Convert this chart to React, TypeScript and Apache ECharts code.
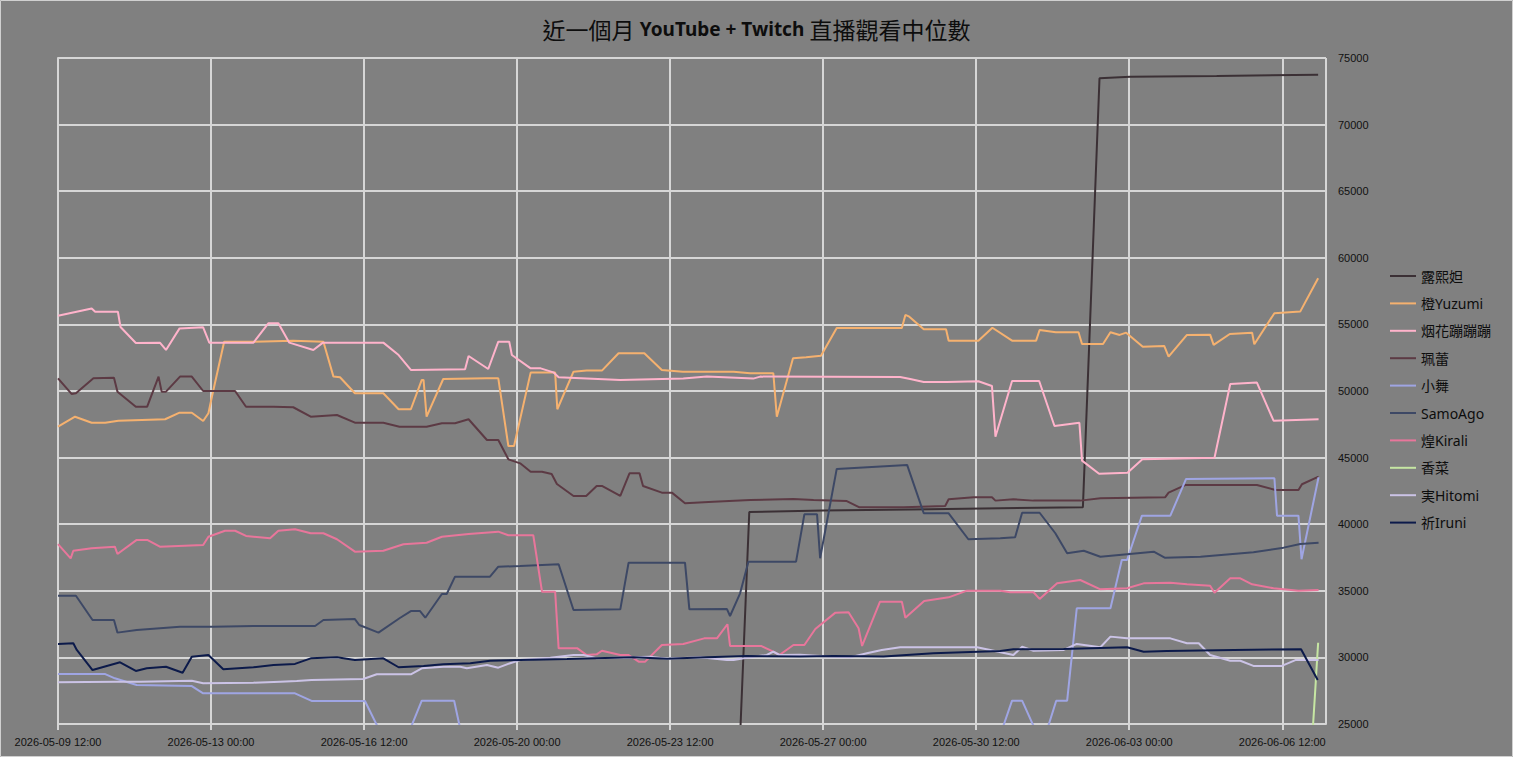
import React, { useEffect, useRef } from "react";
import * as echarts from "echarts";

// x values are days since 2026-05-09 12:00
const START_UTC = Date.UTC(2026, 4, 9, 12, 0);
const X_MAX_DAYS = 29;
const X_TICK_STEP_DAYS = 3.5;
const Y_MIN = 25000;
const Y_MAX = 75000;
const Y_STEP = 5000;

const TITLE_PARTS = ["近一個月 ", "YouTube + Twitch", " 直播觀看中位數"];

const SERIES_NAMES = [
  "露熙妲",
  "橙Yuzumi",
  "烟花蹦蹦蹦",
  "珮蕾",
  "小舞",
  "SamoAgo",
  "煌Kirali",
  "香菜",
  "実Hitomi",
  "祈Iruni",
];

const SERIES_COLORS = [
  "#3b3035",
  "#f5b16f",
  "#ffb3cb",
  "#5c3a44",
  "#9fa5e3",
  "#3d4865",
  "#e8769b",
  "#c6e6a3",
  "#cbc3e6",
  "#0c1a4a",
];

const luxida: [number, number][] = [
  [15.3, 0], [15.81, 40920], [17.5, 41020], [19.5, 41100], [21.55, 41200],
  [23.44, 41270], [23.82, 73480], [24.52, 73600], [26.5, 73650], [28.82, 73750],
];

const yuzumi: [number, number][] = [
  [0, 47320], [0.39, 48070], [0.77, 47620], [1.08, 47620], [1.38, 47770],
  [2.45, 47880], [2.78, 48370], [3.06, 48370], [3.32, 47750], [3.44, 48330],
  [3.52, 49570], [3.8, 53700], [4.47, 53700], [5.38, 53780], [6.07, 53700],
  [6.3, 51080], [6.45, 51030], [6.79, 49830], [7.44, 49830], [7.79, 48630],
  [8.07, 48630], [8.32, 50830], [8.36, 50830], [8.43, 48070], [8.81, 50900],
  [9.81, 50950], [10.07, 50950], [10.3, 45870], [10.43, 45870], [10.81, 51380],
  [11.37, 51380], [11.42, 48630], [11.79, 51450], [12.09, 51530], [12.44, 51530],
  [12.82, 52830], [13.41, 52830], [13.81, 51580], [14.29, 51450], [15.45, 51450],
  [15.83, 51330], [16.36, 51330], [16.44, 48070], [16.81, 52460], [17.11, 52530],
  [17.45, 52650], [17.81, 54730], [19.3, 54730], [19.38, 55710], [19.47, 55580],
  [19.8, 54630], [20.31, 54630], [20.37, 53780], [21.05, 53780], [21.37, 54750],
  [21.82, 53780], [22.37, 53780], [22.45, 54580], [22.82, 54410], [23.34, 54410],
  [23.42, 53530], [23.9, 53530], [24.07, 54410], [24.28, 54210], [24.43, 54380],
  [24.81, 53330], [25.3, 53380], [25.4, 52580], [25.82, 54210], [26.35, 54230],
  [26.43, 53460], [26.8, 54280], [27.31, 54380], [27.36, 53510], [27.82, 55840],
  [28.41, 55960], [28.82, 58460],
];

const yanhua: [number, number][] = [
  [0, 55650], [0.77, 56200], [0.85, 55950], [1.37, 55950], [1.43, 54800],
  [1.78, 53600], [2.33, 53630], [2.47, 53080], [2.78, 54700], [3.32, 54780],
  [3.46, 53630], [4.47, 53630], [4.81, 55080], [5.04, 55080], [5.29, 53630],
  [5.84, 53080], [6.06, 53630], [7.44, 53630], [7.79, 52700], [8.07, 51580],
  [9.31, 51630], [9.39, 52630], [9.84, 51650], [10.07, 53700], [10.32, 53700],
  [10.38, 52700], [10.81, 51700], [11.04, 51700], [11.33, 51400], [11.45, 51030],
  [12.86, 50830], [14.3, 50930], [14.84, 51080], [15.9, 50930], [16.06, 51080],
  [19.26, 51050], [19.49, 50900], [19.8, 50680], [20.33, 50680], [21.05, 50730],
  [21.36, 50380], [21.44, 46570], [21.82, 50750], [22.44, 50750], [22.79, 47370],
  [23.36, 47620], [23.42, 44770], [23.81, 43790], [24.46, 43870], [24.8, 44870],
  [26.45, 44990], [26.81, 50530], [27.42, 50630], [27.8, 47770], [28.83, 47880],
];

const peilei: [number, number][] = [
  [0, 50950], [0.31, 49780], [0.41, 49830], [0.81, 50950], [1.28, 51000],
  [1.36, 49950], [1.78, 48820], [2.04, 48820], [2.3, 51080], [2.37, 49950],
  [2.47, 49950], [2.79, 51080], [3.06, 51080], [3.32, 50000], [4.05, 50000],
  [4.3, 48820], [4.93, 48820], [5.38, 48780], [5.78, 48070], [6.38, 48200],
  [6.79, 47620], [7.44, 47620], [7.81, 47320], [8.43, 47320], [8.78, 47580],
  [9.08, 47580], [9.39, 47880], [9.81, 46320], [10.07, 46320], [10.3, 44870],
  [10.57, 44570], [10.81, 43940], [11.07, 43940], [11.29, 43770], [11.41, 43020],
  [11.79, 42120], [12.08, 42120], [12.32, 42870], [12.44, 42870], [12.86, 42120],
  [13.07, 43820], [13.3, 43820], [13.38, 42870], [13.81, 42370], [14.04, 42370],
  [14.34, 41570], [14.99, 41690], [15.83, 41820], [16.82, 41890], [17.28, 41820],
  [18.04, 41740], [18.33, 41270], [19.34, 41270], [20.29, 41370], [20.37, 41870],
  [20.94, 42020], [21.36, 42020], [21.44, 41770], [21.85, 41870], [22.31, 41770],
  [23.38, 41770], [23.84, 41950], [25.32, 42020], [25.4, 42370], [25.78, 42940],
  [27.42, 42940], [27.84, 42570], [28.37, 42570], [28.45, 43000], [28.83, 43570],
];

const xiaowu: [number, number][] = [
  [0, 28750], [1.08, 28750], [1.3, 28430], [1.8, 27930], [3.06, 27850],
  [3.32, 27300], [5.42, 27300], [5.8, 26730], [7.02, 26730], [7.73, 22000],
  [8.32, 26750], [9.06, 26750], [10.82, 0], [19.01, 0], [21.82, 26750],
  [22.05, 26750], [22.51, 23400], [22.83, 26750], [23.08, 26750], [23.3, 33690],
  [24.07, 33690], [24.33, 37310], [24.45, 37310], [24.79, 40640], [25.44, 40640],
  [25.8, 43400], [27.82, 43450], [27.88, 40640], [28.37, 40640], [28.44, 37370],
  [28.83, 43520],
];

const samoago: [number, number][] = [
  [0, 34630], [0.41, 34630], [0.79, 32810], [1.28, 32810], [1.36, 31860],
  [1.8, 32060], [2.79, 32310], [3.55, 32310], [4.47, 32360], [5.88, 32360],
  [6.07, 32810], [6.79, 32880], [6.89, 32430], [7.33, 31860], [7.81, 32940],
  [8.07, 33480], [8.28, 33480], [8.4, 32980], [8.78, 34760], [8.89, 34760],
  [9.08, 36060], [9.88, 36060], [10.07, 36810], [10.57, 36860], [11.45, 36990],
  [11.79, 33560], [12.86, 33610], [13.05, 37110], [14.34, 37110], [14.44, 33610],
  [15.3, 33630], [15.37, 33110], [15.6, 34810], [15.79, 37190], [16.88, 37190],
  [17.07, 40740], [17.36, 40740], [17.43, 37440], [17.81, 44150], [19.42, 44450],
  [19.8, 40820], [20.37, 40820], [20.82, 38870], [21.55, 38940], [21.89, 39020],
  [22.05, 40860], [22.45, 40860], [22.81, 39320], [23.08, 37820], [23.46, 38010],
  [23.84, 37560], [25.06, 37940], [25.31, 37490], [26.13, 37560], [27.34, 37890],
  [28.03, 38240], [28.41, 38510], [28.83, 38610],
];

const kirali: [number, number][] = [
  [0, 38510], [0.29, 37440], [0.35, 38010], [0.77, 38190], [1.3, 38310],
  [1.36, 37760], [1.8, 38820], [2.04, 38820], [2.33, 38310], [3.32, 38440],
  [3.44, 39060], [3.82, 39510], [4.05, 39510], [4.3, 39120], [4.85, 38940],
  [5.04, 39510], [5.42, 39620], [5.78, 39320], [6.07, 39320], [6.38, 38870],
  [6.79, 37940], [7.44, 38010], [7.9, 38490], [8.43, 38610], [8.78, 39060],
  [9.39, 39270], [10.07, 39440], [10.3, 39170], [10.87, 39170], [11.07, 34930],
  [11.37, 34930], [11.45, 30680], [11.88, 30680], [12.09, 30180], [12.32, 30230],
  [12.44, 30500], [12.86, 30180], [13.05, 30180], [13.28, 29680], [13.43, 29680],
  [13.81, 30930], [14.3, 31010], [14.78, 31430], [15.07, 31430], [15.31, 32490],
  [15.37, 30860], [16.08, 30860], [16.36, 30430], [16.5, 30180], [16.82, 30930],
  [17.07, 30930], [17.32, 32130], [17.78, 33360], [18.08, 33390], [18.31, 32190],
  [18.39, 30860], [18.8, 34180], [19.3, 34180], [19.38, 32980], [19.81, 34240],
  [20.37, 34510], [20.79, 35010], [21.55, 35010], [21.78, 34890], [22.31, 34890],
  [22.45, 34390], [22.85, 35560], [23.38, 35810], [23.84, 35110], [24.45, 35190],
  [24.83, 35560], [25.44, 35610], [25.82, 35490], [26.35, 35380], [26.45, 34860],
  [26.81, 35940], [27.04, 35940], [27.31, 35490], [27.8, 35190], [28.37, 35010],
  [28.83, 35060],
];

const xiangcai: [number, number][] = [
  [28.24, 0], [28.82, 31100],
];

const hitomi: [number, number][] = [
  [0, 28130], [1.34, 28180], [1.88, 28180], [3.06, 28250], [3.32, 28060],
  [4.47, 28100], [5.08, 28180], [5.46, 28230], [5.8, 28300], [6.98, 28380],
  [7.29, 28730], [8.07, 28730], [8.32, 29180], [8.81, 29300], [9.2, 29300],
  [9.35, 29180], [9.81, 29430], [10.07, 29230], [10.34, 29560], [10.57, 29800],
  [11.26, 29980], [11.79, 30180], [12.02, 30180], [12.32, 29930], [13.54, 30050],
  [13.93, 29900], [14.69, 30010], [15.3, 29800], [15.45, 29800], [15.75, 29980],
  [16.21, 30180], [16.36, 30430], [16.5, 30180], [16.97, 30200], [17.74, 30050],
  [18.12, 30010], [18.5, 30310], [18.84, 30560], [19.26, 30760], [21.02, 30760],
  [21.32, 30560], [21.85, 30180], [22.05, 30800], [22.31, 30500], [23.0, 30560],
  [23.3, 31010], [23.84, 30760], [24.07, 31560], [24.45, 31430], [25.44, 31430],
  [25.82, 31060], [26.09, 31060], [26.35, 30180], [26.81, 29750], [27.04, 29750],
  [27.34, 29360], [27.99, 29360], [28.3, 29800], [28.83, 29800],
];

const iruni: [number, number][] = [
  [0, 31010], [0.35, 31060], [0.43, 30560], [0.79, 29050], [1.42, 29630],
  [1.78, 28980], [2.03, 29180], [2.47, 29300], [2.85, 28850], [3.06, 30050],
  [3.44, 30180], [3.78, 29110], [4.47, 29260], [4.93, 29430], [5.42, 29510],
  [5.78, 29930], [6.38, 30010], [6.79, 29810], [7.44, 29930], [7.79, 29260],
  [8.36, 29360], [8.81, 29480], [9.43, 29560], [9.88, 29750], [10.57, 29810],
  [11.64, 29880], [13.16, 30010], [13.93, 29900], [14.84, 30010], [15.75, 30110],
  [16.97, 30060], [17.74, 30110], [18.88, 30060], [20.02, 30310], [21.55, 30480],
  [21.85, 30610], [23.0, 30630], [24.45, 30760], [24.83, 30430], [25.36, 30480],
  [26.89, 30560], [28.43, 30610], [28.81, 28300],
];

const SERIES_DATA = [luxida, yuzumi, yanhua, peilei, xiaowu, samoago, kirali, xiangcai, hitomi, iruni];

const pad = (n: number) => String(n).padStart(2, "0");
const formatDay = (v: number) => {
  const d = new Date(START_UTC + v * 86400000);
  return `${d.getUTCFullYear()}-${pad(d.getUTCMonth() + 1)}-${pad(d.getUTCDate())} ${pad(
    d.getUTCHours()
  )}:${pad(d.getUTCMinutes())}`;
};

const GRID_COLOR = "#d6d6d6";
const TEXT_COLOR = "#111111";

export default function App() {
  const ref = useRef<HTMLDivElement>(null);
  useEffect(() => {
    document.body.style.margin = "0";
    const chart = echarts.init(ref.current!, null, { renderer: "svg" });
    chart.setOption({
      animation: false,
      backgroundColor: "#808080",
      title: {
        text: `{c|${TITLE_PARTS[0]}}{b|${TITLE_PARTS[1]}}{c|${TITLE_PARTS[2]}}`,
        left: "center",
        top: 9,
        textStyle: {
          fontWeight: "normal",
          rich: {
            c: {
              fontFamily: '"Noto Sans CJK TC"',
              fontSize: 23,
              fontWeight: "normal",
              color: "#0d0d0d",
              lineHeight: 30,
            },
            b: {
              fontFamily: '"Noto Sans", sans-serif',
              fontWeight: "bold",
              fontSize: 19,
              color: "#0d0d0d",
              lineHeight: 30,
            },
          },
        },
      },
      graphic: [
        {
          type: "rect",
          shape: { x: 0.5, y: 0.5, width: 1512, height: 756 },
          style: { fill: "none", stroke: "#d0d0d0", lineWidth: 1 },
          silent: true,
        },
      ],
      legend: {
        orient: "vertical",
        left: 1385,
        top: 264,
        icon: "rect",
        itemWidth: 26,
        itemHeight: 2,
        itemGap: 13.4,
        data: SERIES_NAMES,
        textStyle: {
          color: "#0d0d0d",
          fontSize: 14,
          lineHeight: 14,
          fontFamily: '"Noto Sans", "Noto Sans CJK TC", sans-serif',
        },
      },
      grid: { left: 58, top: 58, width: 1268, height: 666, containLabel: false },
      xAxis: {
        type: "value",
        min: 0,
        max: X_MAX_DAYS,
        interval: X_TICK_STEP_DAYS,
        axisLine: { show: true, lineStyle: { color: GRID_COLOR, width: 2 } },
        axisTick: { show: true, length: 6, lineStyle: { color: GRID_COLOR, width: 2 } },
        axisLabel: {
          color: TEXT_COLOR,
          fontSize: 11,
          fontFamily: '"Liberation Sans", Arial, sans-serif',
          margin: 12,
          showMaxLabel: false,
          formatter: (v: number) => formatDay(v),
        },
        splitLine: { show: true, lineStyle: { color: GRID_COLOR, width: 2 } },
      },
      yAxis: {
        type: "value",
        position: "right",
        min: Y_MIN,
        max: Y_MAX,
        interval: Y_STEP,
        axisLine: { show: true, lineStyle: { color: GRID_COLOR, width: 2 } },
        axisTick: { show: false },
        axisLabel: {
          color: TEXT_COLOR,
          fontSize: 11,
          fontFamily: '"Liberation Sans", Arial, sans-serif',
          margin: 12,
          formatter: (v: number) => String(v),
        },
        splitLine: { show: true, lineStyle: { color: GRID_COLOR, width: 2 } },
      },
      series: SERIES_NAMES.map((name, i) => ({
        type: "line",
        name,
        data: SERIES_DATA[i],
        symbol: "none",
        clip: true,
        color: SERIES_COLORS[i],
        lineStyle: { color: SERIES_COLORS[i], width: 2 },
        itemStyle: { color: SERIES_COLORS[i] },
        emphasis: { disabled: true },
      })),
    });
    return () => chart.dispose();
  }, []);
  return (
    <div
      ref={ref}
      style={{ position: "absolute", left: 0, top: 0, width: 1513, height: 757 }}
    />
  );
}
